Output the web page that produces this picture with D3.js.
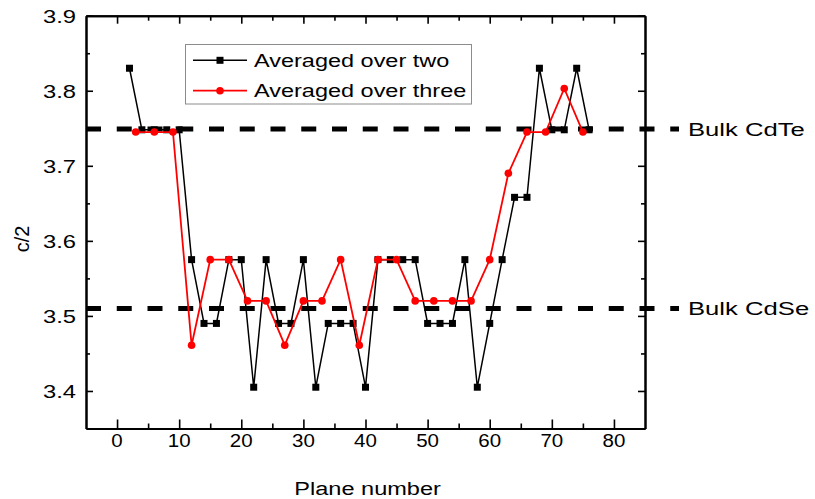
<!DOCTYPE html>
<meta charset="utf-8">
<style>
body { margin: 0; background: #fff; }
text { font-family: "Liberation Sans", Arial, sans-serif; fill: #000; }
.axis path, .axis line { stroke: #000; }
.axis path { stroke-width: 2px; }
.axis line { stroke-width: 1.6px; }
</style>
<svg width="815" height="499"></svg>
<script src="https://d3js.org/d3.v7.min.js"></script>
<script>

// averaged over two planes
var planeTwo = [2, 4, 6, 8, 10, 12, 14, 16, 18, 20, 22, 24, 26, 28, 30, 32, 34, 36, 38,
                40, 42, 44, 46, 48, 50, 52, 54, 56, 58, 60, 62, 64, 66, 68, 70, 72, 74, 76];
var cTwo = [3.83, 3.748, 3.748, 3.748, 3.748, 3.575, 3.49, 3.49, 3.575, 3.575, 3.405, 3.575,
            3.49, 3.49, 3.575, 3.405, 3.49, 3.49, 3.49, 3.405, 3.575, 3.575, 3.575, 3.575,
            3.49, 3.49, 3.49, 3.575, 3.405, 3.49, 3.575, 3.658, 3.658, 3.83, 3.748, 3.748,
            3.83, 3.748];

// averaged over three planes
var planeThree = [3, 6, 9, 12, 15, 18, 21, 24, 27, 30, 33, 36, 39, 42, 45, 48, 51, 54, 57,
                  60, 63, 66, 69, 72, 75];
var cThree = [3.745, 3.745, 3.745, 3.461, 3.575, 3.575, 3.52, 3.52, 3.461, 3.52, 3.52, 3.575,
              3.461, 3.575, 3.575, 3.52, 3.52, 3.52, 3.52, 3.575, 3.69, 3.745, 3.745, 3.803,
              3.745];

var xMajor = [0, 10, 20, 30, 40, 50, 60, 70, 80];
var xMinor = [5, 15, 25, 35, 45, 55, 65, 75];
var yMajor = [3.4, 3.5, 3.6, 3.7, 3.8, 3.9];
var yMinor = [3.45, 3.55, 3.65, 3.75, 3.85];

var bulkNames = ["Bulk CdTe", "Bulk CdSe"];
var bulkValues = [3.749, 3.51];
var legendNames = ["Averaged over two", "Averaged over three"];

var svg = d3.select("svg");

var x = d3.scaleLinear().domain([-5, 85]).range([86, 645]);
var y = d3.scaleLinear().domain([3.35, 3.9]).range([428.5, 15.7]);

var xLeft = x.range()[0], xRight = x.range()[1];
var yTop = y.range()[1], yBottom = y.range()[0];

// text stretched sideways like the original picture
function label(g, px, py, str, size, sx, anchor) {
  return g.append("text")
      .attr("transform", "translate(" + px + "," + py + ") scale(" + sx + ",1)")
      .attr("text-anchor", anchor || "start")
      .style("font-size", size + "px")
      .text(str);
}

// bulk reference lines
var bulk = svg.append("g");
bulkValues.forEach(function(v, i) {
  bulk.append("line")
      .attr("x1", xLeft).attr("x2", xRight + 34)
      .attr("y1", y(v)).attr("y2", y(v))
      .attr("stroke", "#000")
      .attr("stroke-width", 5)
      .attr("stroke-dasharray", "15,15.75");
  label(bulk, xRight + 43, y(v) + 7, bulkNames[i], 19, 1.35);
});

// axes, ticks pointing inward
function addAxis(axis, tr, values, size) {
  svg.append("g").attr("class", "axis")
      .attr("transform", tr)
      .call(axis.tickValues(values).tickSizeInner(size).tickSizeOuter(0).tickFormat(""));
}
addAxis(d3.axisBottom(x), "translate(0," + yBottom + ")", xMajor, -9);
addAxis(d3.axisBottom(x), "translate(0," + yBottom + ")", xMinor, -5);
addAxis(d3.axisTop(x), "translate(0," + yTop + ")", xMajor, -8);
addAxis(d3.axisTop(x), "translate(0," + yTop + ")", xMinor, -5);
addAxis(d3.axisLeft(y), "translate(" + xLeft + ",0)", yMajor, -7);
addAxis(d3.axisLeft(y), "translate(" + xLeft + ",0)", yMinor, -4);
addAxis(d3.axisRight(y), "translate(" + xRight + ",0)", yMajor, -7);
addAxis(d3.axisRight(y), "translate(" + xRight + ",0)", yMinor, -4);

var labels = svg.append("g");
xMajor.forEach(function(v) { label(labels, x(v), 447, v, 19, 1.08, "middle"); });
yMajor.forEach(function(v) { label(labels, 76, y(v) + 7, v.toFixed(1), 19, 1.25, "end"); });

label(labels, 367.6, 495, "Plane number", 19, 1.24, "middle");
labels.append("text")
    .attr("transform", "translate(29,239) rotate(-90)")
    .attr("text-anchor", "middle")
    .style("font-size", "20px")
    .text("c/2");

// series
var line = d3.line()
    .x(function(d) { return x(d[0]); })
    .y(function(d) { return y(d[1]); });

var two = d3.zip(planeTwo, cTwo);
var three = d3.zip(planeThree, cThree);

svg.append("path").datum(two)
    .attr("d", line).attr("fill", "none")
    .attr("stroke", "#000").attr("stroke-width", 1.5);
svg.append("g").selectAll("rect").data(two).enter().append("rect")
    .attr("x", function(d) { return x(d[0]) - 3.5; })
    .attr("y", function(d) { return y(d[1]) - 3.5; })
    .attr("width", 7).attr("height", 7)
    .attr("fill", "#000");

svg.append("path").datum(three)
    .attr("d", line).attr("fill", "none")
    .attr("stroke", "#ff0000").attr("stroke-width", 1.8);
svg.append("g").selectAll("circle").data(three).enter().append("circle")
    .attr("cx", function(d) { return x(d[0]); })
    .attr("cy", function(d) { return y(d[1]); })
    .attr("r", 3.8)
    .attr("fill", "#ff0000");

// legend
var legend = svg.append("g");
legend.append("rect")
    .attr("x", 185.5).attr("y", 44.5)
    .attr("width", 286).attr("height", 59.5)
    .attr("fill", "#fff")
    .attr("stroke", "#8c8c8c").attr("stroke-width", 1);

var rows = [60.3, 90.7];
legend.append("line")
    .attr("x1", 193).attr("x2", 247).attr("y1", rows[0]).attr("y2", rows[0])
    .attr("stroke", "#000").attr("stroke-width", 1.5);
legend.append("rect")
    .attr("x", 220 - 3.5).attr("y", rows[0] - 3.5).attr("width", 7).attr("height", 7)
    .attr("fill", "#000");
legend.append("line")
    .attr("x1", 193).attr("x2", 247).attr("y1", rows[1]).attr("y2", rows[1])
    .attr("stroke", "#ff0000").attr("stroke-width", 1.8);
legend.append("circle")
    .attr("cx", 220).attr("cy", rows[1]).attr("r", 3.8)
    .attr("fill", "#ff0000");

legendNames.forEach(function(n, i) {
  label(legend, 254, rows[i] + 6.6, n, 18.5, 1.27);
});

</script>
